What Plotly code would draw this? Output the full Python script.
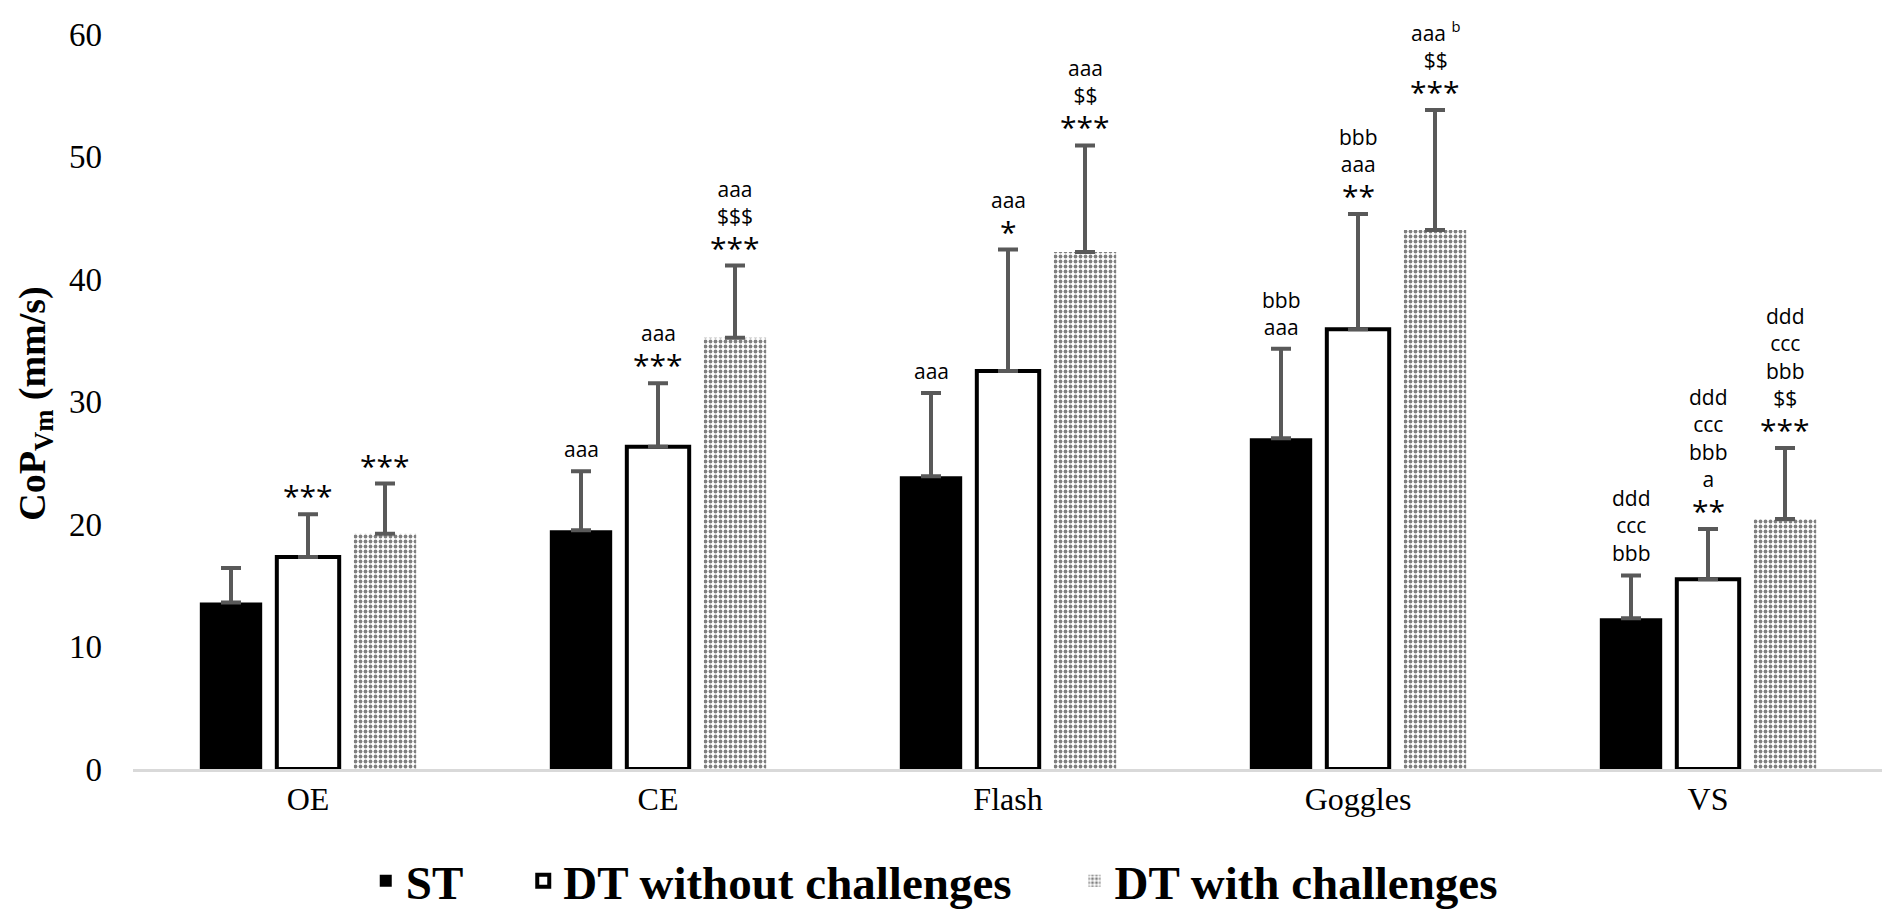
import plotly.graph_objects as go

categories = ["OE", "CE", "Flash", "Goggles", "VS"]

st_mean = [13.6, 19.5, 23.9, 27.0, 12.3]
st_sd = [2.8, 4.8, 6.8, 7.3, 3.5]

dtwo_mean = [17.3, 26.3, 32.5, 35.9, 15.5]
dtwo_sd = [3.5, 5.2, 9.9, 9.4, 4.1]

dtw_mean = [19.2, 35.2, 42.2, 44.0, 20.4]
dtw_sd = [4.1, 5.9, 8.7, 9.8, 5.8]

# significance marks per bar: (asterisks, letter lines top first)
st_labels = [("", []), ("", ["aaa"]), ("", ["aaa"]), ("", ["bbb", "aaa"]),
             ("", ["ddd", "ccc", "bbb"])]
dtwo_labels = [("***", []), ("***", ["aaa"]), ("*", ["aaa"]), ("**", ["bbb", "aaa"]),
               ("**", ["ddd", "ccc", "bbb", "a"])]
dtw_labels = [("***", []), ("***", ["aaa", "$$$"]), ("***", ["aaa", "$$"]),
              ("***", ["aaa <sup>b</sup>", "$$"]), ("***", ["ddd", "ccc", "bbb", "$$"])]

SERIF = "Liberation Serif"
SANS = "Open Sans"
BARGAP = 0.34
ERR_COLOR = "#595959"


def err(sd):
    return dict(type="data", symmetric=False, array=sd, arrayminus=[0] * len(sd),
                color=ERR_COLOR, thickness=4, width=10)


fig = go.Figure()

fig.add_trace(go.Bar(
    x=categories, y=st_mean, name="ST", error_y=err(st_sd), legend="legend",
    marker=dict(color="black", line=dict(width=0)),
))
fig.add_trace(go.Bar(
    x=categories, y=dtwo_mean, name="DT without challenges", error_y=err(dtwo_sd),
    legend="legend2",
    marker=dict(color="white", line=dict(color="black", width=4)),
))
fig.add_trace(go.Bar(
    x=categories, y=dtw_mean, name="DT with challenges", error_y=err(dtw_sd),
    legend="legend3",
    marker=dict(color="white", line=dict(width=0),
                pattern=dict(shape=".", fgcolor="black", bgcolor="white",
                             size=5, solidity=0.45)),
))

# labels above the error bars
slot = (1 - BARGAP) / 3
series = [(st_mean, st_sd, st_labels), (dtwo_mean, dtwo_sd, dtwo_labels),
          (dtw_mean, dtw_sd, dtw_labels)]
for k, (means, sds, labels) in enumerate(series):
    for i, (stars, lines) in enumerate(labels):
        xpos = i + (k - 1) * slot
        top = means[i] + sds[i]
        shift = 6
        if stars:
            fig.add_annotation(
                x=xpos, y=top, xref="x", yref="y", text=stars, showarrow=False,
                yanchor="bottom", yshift=-4,
                font=dict(family=SANS, size=30, color="black"),
            )
            shift = 34
        if lines:
            fig.add_annotation(
                x=xpos, y=top, xref="x", yref="y", text="<br>".join(lines),
                showarrow=False, yanchor="bottom", yshift=shift, align="center",
                font=dict(family=SANS, size=21, color="black"),
            )

# y axis title
fig.add_annotation(
    x=-0.056, y=0.497, xref="paper", yref="paper", textangle=-90,
    text="<b>CoP<sub>Vm</sub> (mm/s)</b>", showarrow=False,
    xanchor="center", yanchor="middle",
    font=dict(family=SERIF, size=38, color="black"),
)

legend_font = dict(family=SERIF, size=47, color="black", weight=700)
legend_common = dict(orientation="h", xanchor="left", yref="container", y=0.052,
                     yanchor="middle", font=legend_font, itemwidth=30,
                     bgcolor="rgba(0,0,0,0)")

fig.update_layout(
    width=1890, height=921,
    paper_bgcolor="white", plot_bgcolor="white",
    barmode="group", bargap=BARGAP, bargroupgap=0.19,
    margin=dict(l=125, r=15, t=26, b=160, autoexpand=False),
    showlegend=True,
    legend=dict(x=0.133, **legend_common),
    legend2=dict(x=0.223, **legend_common),
    legend3=dict(x=0.538, **legend_common),
    xaxis=dict(showline=True, linecolor="#d9d9d9", linewidth=3, ticks="",
               tickfont=dict(family=SERIF, size=32, color="black"),
               showgrid=False, automargin=False),
    yaxis=dict(range=[0, 60], dtick=10, showgrid=False, showline=False,
               zeroline=False, ticks="", ticklabelstandoff=30, automargin=False,
               tickfont=dict(family=SERIF, size=33, color="black")),
)

fig.write_html("out.html")
